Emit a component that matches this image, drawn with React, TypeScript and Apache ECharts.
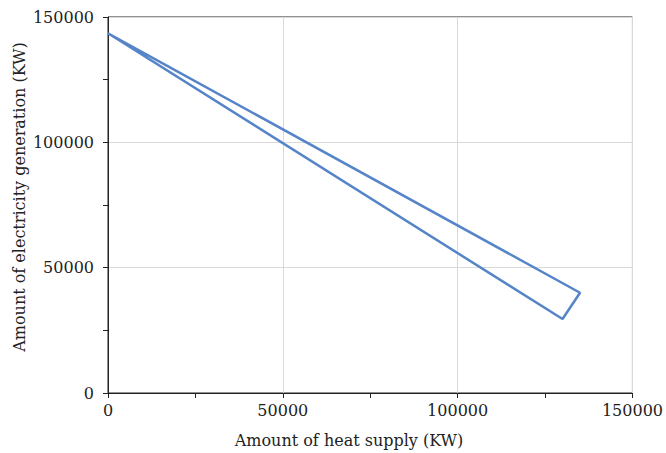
import React, { useEffect, useRef } from "react";
import * as echarts from "echarts";

const heatSupply = [0, 135000, 130000, 0];
const electricity = [143500, 40000, 29500, 143500];
const xTitle = "Amount of heat supply (KW)";
const yTitle = "Amount of electricity generation (KW)";

export default function App() {
  const ref = useRef<HTMLDivElement>(null);
  useEffect(() => {
    document.body.style.margin = "0";
    const chart = echarts.init(ref.current!, null, { renderer: "svg" });
    const font = "DejaVu Serif";
    const axisCommon = {
      type: "value" as const,
      min: 0,
      max: 150000,
      interval: 50000,
      axisLine: { show: true, onZero: false, lineStyle: { color: "#222", width: 1 } },
      axisTick: { show: true, inside: false, length: 5, lineStyle: { color: "#222" } },
      minorTick: { show: true, splitNumber: 2, length: 5, lineStyle: { color: "#222" } },
      splitLine: { show: true, lineStyle: { color: "#d9d9d9", width: 1 } },
      axisLabel: { color: "#222", fontFamily: font, fontSize: 16, formatter: (v: number) => String(v) },
    };
    chart.setOption({
      animation: false,
      textStyle: { fontFamily: font },
      grid: { left: 108, right: 30, top: 17, bottom: 60, show: true, borderColor: "#222", borderWidth: 1, backgroundColor: "transparent" },
      xAxis: { ...axisCommon, axisLabel: { ...axisCommon.axisLabel, margin: 9 } },
      yAxis: { ...axisCommon, axisLabel: { ...axisCommon.axisLabel, margin: 14 } },
      graphic: [
        {
          type: "text",
          x: 349,
          y: 440,
          style: { text: xTitle, font: "16px " + font, fill: "#222", align: "center", verticalAlign: "middle" },
        },
        {
          type: "text",
          x: 19,
          y: 197,
          rotation: Math.PI / 2,
          style: { text: yTitle, font: "16px " + font, fill: "#222", align: "center", verticalAlign: "middle" },
        },
      ],
      series: [
        {
          type: "line",
          data: heatSupply.map((x, i) => [x, electricity[i]]),
          showSymbol: false,
          symbol: "none",
          lineStyle: { color: "#5585C8", width: 2.5 },
        },
      ],
    });
    return () => chart.dispose();
  }, []);
  return <div ref={ref} style={{ width: 666, height: 453 }} />;
}
